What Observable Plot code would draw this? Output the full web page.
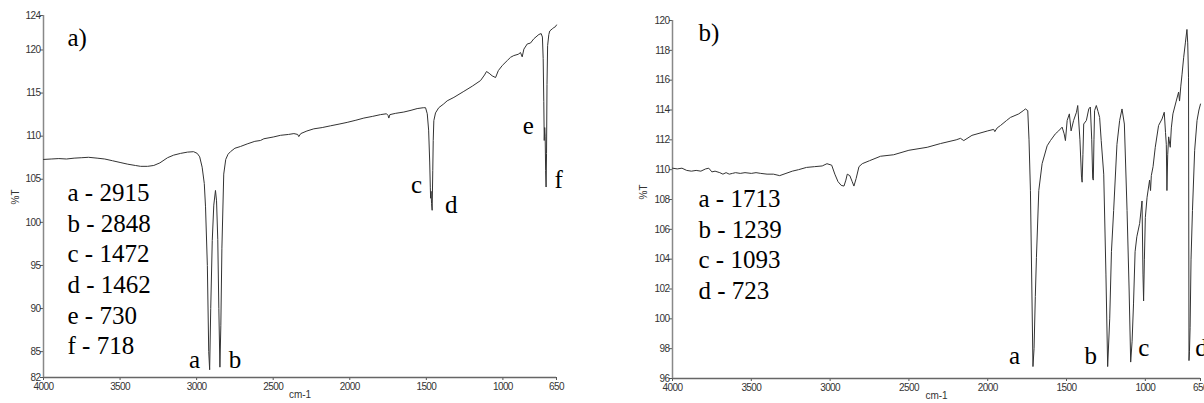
<!DOCTYPE html>
<html>
<head>
<meta charset="utf-8">
<script src="https://cdn.jsdelivr.net/npm/d3@7"></script>
<script src="https://cdn.jsdelivr.net/npm/@observablehq/plot@0.6"></script>
<style>
  html, body { margin: 0; padding: 0; background: #fff; }
  #wrap { display: flex; width: 1204px; height: 403px; overflow: hidden; }
  svg { overflow: hidden; }
  .ticks text { letter-spacing: -0.6px; }
</style>
</head>
<body>
<div id="wrap"></div>
<script>
// ---------- data ----------
const xTicks = [4000, 3500, 3000, 2500, 2000, 1500, 1000, 650];
const yTicksA = [82, 85, 90, 95, 100, 105, 110, 115, 120, 124];
const yTicksB = [96, 98, 100, 102, 104, 106, 108, 110, 112, 114, 116, 118, 120];

// Spectrum a)
const waveA = [4000,3950,3900,3850,3800,3750,3706,3650,3600,3550,3500,3450,3400,3366,3320,3280,3240,3190,3150,3105,3060,3020,2996,2980,2964,2950,2942,2930,2921,2915,2908,2898,2888,2877,2870,2862,2855,2848,2842,2835,2823,2810,2795,2779,2750,2714,2670,2620,2583,2561,2500,2452,2400,2365,2340,2333,2320,2280,2235,2180,2126,2070,2017,1960,1908,1850,1799,1760,1750,1745,1738,1700,1647,1600,1560,1520,1505,1494,1485,1478,1474,1472,1469,1466,1462,1458,1455,1451,1440,1419,1386,1364,1320,1255,1200,1146,1120,1107,1090,1070,1048,1030,1004,970,950,929,900,885,874,863,841,820,798,765,750,742,737,733,730,727,724,721,718,715,712,708,700,694,678,667,657,650];
const transA = [107.3,107.35,107.4,107.35,107.45,107.5,107.55,107.45,107.35,107.15,106.95,106.75,106.6,106.5,106.5,106.6,106.9,107.5,107.8,108.0,108.15,108.2,108.0,107.6,106.4,104.5,101.8,95,85,82.9,90,97.9,102,103.7,102.5,98,90,83.2,88,97,105.6,107.3,107.9,108.2,108.6,108.8,109.1,109.4,109.5,109.7,109.9,110.1,110.2,110.3,110.2,109.95,110.3,110.6,110.85,111.0,111.2,111.4,111.6,111.85,112.1,112.3,112.5,112.6,112.4,112.1,112.5,112.65,112.8,113.0,113.2,113.3,113.3,112.6,110.7,107,104,102.8,103.6,102.2,101.4,106,109.5,111.8,112.7,113.3,113.75,114.1,114.5,115.2,115.8,116.45,117.1,117.5,117.3,117.0,116.8,117.6,118.2,118.8,119.15,119.35,119.5,119.7,119.2,120.1,120.7,120.8,121.3,121.8,121.9,121.5,119,114,109.5,111,110,106,104.1,108,116,120.5,121.8,122.2,122.45,122.6,122.7,122.9];
const peakLettersA = ["a", "b", "c", "d", "e", "f"];
const peakWavesA = [2915, 2848, 1472, 1462, 730, 718];

// Spectrum b)
const waveB = [4000,3970,3940,3910,3880,3850,3820,3790,3770,3750,3730,3700,3680,3660,3640,3620,3600,3570,3540,3500,3470,3440,3400,3360,3320,3280,3240,3200,3150,3100,3050,3020,2990,2970,2950,2930,2912,2900,2891,2875,2860,2849,2835,2817,2796,2750,2680,2597,2500,2384,2300,2200,2173,2152,2100,2000,1962,1955,1940,1919,1880,1856,1803,1775,1761,1746,1738,1729,1720,1713,1706,1698,1691,1676,1655,1623,1602,1571,1550,1528,1515,1507,1496,1482,1471,1455,1437,1429,1415,1405,1401,1396,1391,1374,1359,1349,1340,1334,1330,1326,1322,1311,1300,1290,1280,1264,1250,1239,1226,1215,1201,1180,1163,1148,1133,1116,1103,1093,1084,1075,1065,1054,1036,1021,1015,1011,1006,1000,989,973,967,962,951,937,916,894,880,872,867,863,858,852,842,835,825,804,789,783,775,767,757,746,736,731,726,723,720,716,710,701,687,672,660,650];
const transB = [110.1,110.05,110.1,109.95,109.9,109.95,109.9,110.05,110.1,109.85,109.9,109.8,109.7,109.8,109.7,109.75,109.8,109.75,109.8,109.75,109.8,109.75,109.7,109.7,109.6,109.75,109.9,110.0,110.15,110.2,110.25,110.4,110.3,109.7,109.2,108.95,108.9,109.3,109.7,109.6,109.2,108.9,109.4,110.2,110.4,110.6,110.9,111.0,111.3,111.5,111.75,112.0,112.1,111.95,112.3,112.6,112.7,112.55,112.8,112.96,113.3,113.5,113.74,113.95,114.07,113.96,112,108.6,102,96.8,98,101.5,104.1,108.6,110.4,111.6,111.95,112.4,112.6,112.85,112.4,111.95,113.3,113.74,112.6,113.3,113.85,114.3,112,109.5,109.16,111,113.06,113.3,114.07,114.2,112,109.4,109.3,112,113.96,114.3,113.9,113.5,111.95,109.7,103,96.8,100,104.5,107.26,111.7,113.3,114.07,113.06,107.26,102,97.1,98.5,101,104.5,105.5,106.4,107.9,103,101.2,104,106.8,108.15,109.3,108.6,109.6,110.2,111.5,112.96,113.4,113.85,112.5,111.7,108.6,111,112.2,111.5,112.8,113.74,114.6,115.2,114.6,115.6,116.4,117.5,118.5,119.4,118.5,116.2,97.2,97.8,99.4,104,107.26,111.3,113.3,114.0,114.4];
const peakLettersB = ["a", "b", "c", "d"];
const peakWavesB = [1713, 1239, 1093, 723];

const panelTags = ["a)", "b)"];
const xLabel = "cm-1";
const yLabel = "%T";

// ---------- drawing ----------
const serif = '"Liberation Serif", serif';
const sans = '"Liberation Sans", sans-serif';

function panel(cfg) {
  const rows = cfg.wave.map((w, i) => ({w, t: cfg.trans[i]}));
  const legendText = cfg.letters.map((l, i) => `${l} - ${cfg.peaks[i]}`).join("\n");
  const letterMarks = cfg.letters.map((l, i) =>
    Plot.text([l], {
      x: cfg.peaks[i], y: cfg.letterY[i], dx: cfg.letterDx[i],
      text: d => d, lineAnchor: "bottom", textAnchor: "middle",
      fontFamily: serif, fontSize: 25, fill: "#000"
    })
  );
  return Plot.plot({
    width: cfg.width, height: 403,
    marginLeft: cfg.ml, marginRight: cfg.mr, marginTop: cfg.mt, marginBottom: cfg.mb,
    style: {fontFamily: sans, fontSize: "10px", color: "#333", background: "#fff"},
    x: {domain: [4000, 650], axis: null},
    y: {domain: cfg.yDomain, axis: null},
    marks: [
      Plot.axisX({ticks: xTicks, tickFormat: d => String(d), tickSize: 3, tickPadding: 2, label: null, stroke: "#555", fill: "#333", fontSize: 10, fontFamily: sans, className: "ticks"}),
      Plot.axisY({ticks: cfg.yTicks, tickFormat: d => String(d), tickSize: 3, tickPadding: 0, label: null, stroke: "#555", fill: "#333", fontSize: 10, fontFamily: sans, className: "ticks"}),
      Plot.ruleY([cfg.yDomain[0]], {stroke: "#666", strokeWidth: 1.5}),
      Plot.ruleX([xTicks[0]], {stroke: "#888", strokeWidth: 1.5}),
      Plot.line(rows, {x: "w", y: "t", stroke: "#333", strokeWidth: 1}),
      Plot.text([yLabel], {frameAnchor: "left", dx: cfg.yLabelDx, dy: cfg.yLabelDy, rotate: -90, fontSize: 10, fontFamily: sans, fill: "#333"}),
      Plot.text([xLabel], {frameAnchor: "bottom", dy: 20, fontSize: 10, fontFamily: sans, fill: "#333"}),
      Plot.text([cfg.tag], {frameAnchor: "top-left", dx: cfg.tagDx, dy: cfg.tagDy, lineAnchor: "bottom", textAnchor: "start", fontFamily: serif, fontSize: 25, fill: "#000"}),
      Plot.text([legendText], {frameAnchor: "top-left", dx: cfg.legDx, dy: cfg.legDy, lineAnchor: "top", textAnchor: "start", lineHeight: 1.225, fontFamily: serif, fontSize: 25, fill: "#000"}),
      ...letterMarks
    ]
  });
}

const wrap = document.getElementById("wrap");
wrap.append(panel({
  wave: waveA, trans: transA, yDomain: [82, 124], yTicks: yTicksA,
  width: 600, ml: 43, mr: 44, mt: 15, mb: 26,
  letters: peakLettersA, peaks: peakWavesA,
  letterDx: [-15, 15, -14, 19, -16, 12.5],
  letterY: [83.16, 83.16, 103.35, 101.14, 110.3, 104.04],
  tag: panelTags[0], tagDx: 24, tagDy: 30,
  legDx: 24, legDy: 164,
  yLabelDx: -27.5, yLabelDy: 8
}));
wrap.append(panel({
  wave: waveB, trans: transB, yDomain: [96, 120], yTicks: yTicksB,
  width: 604, ml: 72, mr: 4, mt: 20, mb: 25,
  letters: peakLettersB, peaks: peakWavesB,
  letterDx: [-18.5, -17, 13, 12.5],
  letterY: [97.0, 97.0, 97.54, 97.54],
  tag: panelTags[1], tagDx: 26, tagDy: 20,
  legDx: 26, legDy: 165,
  yLabelDx: -29, yLabelDy: 0
}));
</script>
</body>
</html>
